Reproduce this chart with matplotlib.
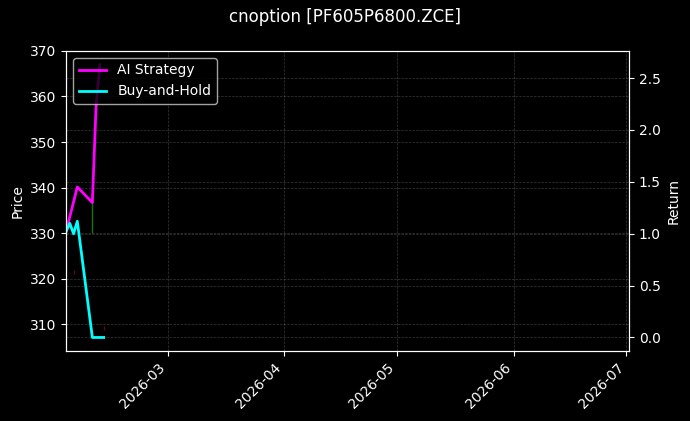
import pandas as pd
import matplotlib
matplotlib.use("Agg")
import matplotlib.pyplot as plt
import matplotlib.dates as mdates

title = "cnoption [PF605P6800.ZCE]"

# price candles (left axis)
candle_dates = pd.to_datetime(["2026-02-02", "2026-02-04", "2026-02-09", "2026-02-12"])
candle_open = [362.8, 321.8, 330.0, 309.4]
candle_high = [363.0, 322.0, 337.0, 309.6]
candle_low = [362.0, 321.0, 330.0, 308.8]
candle_close = [362.2, 321.2, 337.0, 308.9]

# cumulative returns (right axis)
ai_dates = pd.to_datetime(["2026-02-02", "2026-02-05", "2026-02-09",
                           "2026-02-10", "2026-02-11"])
ai_return = [1.02, 1.45, 1.30, 2.24, 2.63]

bh_dates = pd.to_datetime(["2026-02-02", "2026-02-03", "2026-02-04", "2026-02-05",
                           "2026-02-09", "2026-02-10", "2026-02-11", "2026-02-12"])
bh_return = [1.02, 1.10, 1.00, 1.12, 0.0, 0.0, 0.0, 0.0]

x_start = pd.Timestamp("2026-02-02")
x_end = pd.Timestamp("2026-07-01 17:00")

plt.style.use("dark_background")
fig, ax = plt.subplots(figsize=(6.9, 4.21), dpi=100)
fig.subplots_adjust(left=0.0957, right=0.9116, top=0.879, bottom=0.166)

# candles
for d, o, h, l, c in zip(candle_dates, candle_open, candle_high, candle_low, candle_close):
    col = "#1f8f1f" if c >= o else "#7a1010"
    ax.vlines(d, l, h, color=col, linewidth=1, alpha=0.8)

ax.set_ylim(304.1, 370)
ax.set_ylabel("Price")
ax.grid(True, linestyle="--", linewidth=0.5, alpha=0.22)

ax2 = ax.twinx()
ax2.plot(ai_dates, ai_return, color="magenta", linewidth=2, label="AI Strategy")
ax2.plot(bh_dates, bh_return, color="cyan", linewidth=2, label="Buy-and-Hold")
ax2.set_ylabel("Return")
ax2.grid(True, linestyle="--", linewidth=0.5, alpha=0.22)
ax2.legend(loc="upper left", fontsize=10, framealpha=0.8)

ax.set_xlim(x_start, x_end)
ax.xaxis.set_major_locator(mdates.MonthLocator())
ax.xaxis.set_major_formatter(mdates.DateFormatter("%Y-%m"))
plt.setp(ax.get_xticklabels(), rotation=45, ha="right")

fig.suptitle(title, fontsize=12)
fig.savefig("out.png", dpi=100)
